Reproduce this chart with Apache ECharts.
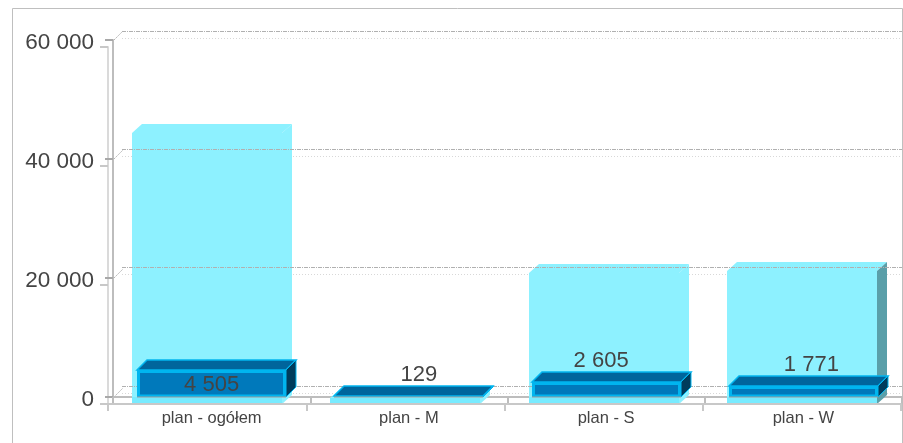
<!DOCTYPE html>
<html><head><meta charset="utf-8">
<style>html,body{margin:0;padding:0;background:#fff}#c{width:903px;height:443px}</style>
<script src="https://cdn.jsdelivr.net/npm/echarts@6/dist/echarts.min.js"></script>
</head><body><div id="c"></div>
<script>
const categories = ['plan - ogółem', 'plan - M', 'plan - S', 'plan - W'];
const planTotal = [45550, 1000, 22000, 22350];
const planDone = [4505, 129, 2605, 1771];
const doneLabels = ['4 505', '129', '2 605', '1 771'];
const yTicks = [0, 20000, 40000, 60000];

const CYAN = '#8df1ff', BASE_CYAN = '#78ebff', SIDE_DARK = '#5a9fa9';
const sideColors = [CYAN, CYAN, CYAN, SIDE_DARK];
const labelShiftX = [0, 10, -5, 8];
const labelInside = [true, false, false, false];
const BAR_W = 150, DONE_W = 149, DX = 10, DY = 9, DY2 = 10;
const TXT = '#444';
const FONT = '"Liberation Sans", Arial, sans-serif';

const fmt = v => String(v).replace(/\B(?=(\d{3})+$)/g, ' ');

function poly(points, fill, extra) {
  return Object.assign({ type: 'polygon', shape: { points }, style: { fill, stroke: null } }, extra || {});
}

function renderLight(params, api) {
  const i = api.value(0);
  const top = api.coord([i, api.value(1)]);
  const base = api.coord([i, 0]);
  const l = Math.round(top[0] - BAR_W / 2), r = l + BAR_W, t = Math.round(top[1]), b = base[1];
  const stripTop = Math.max(t, b - 7);
  return { type: 'group', children: [
    poly([[l, b], [l, t], [l + DX, t - DY], [r + DX, t - DY], [r, t], [r, b]], CYAN),
    poly([[r, t], [r + DX, t - DY], [r + DX, b - DY], [r, b]], sideColors[i]),
    { type: 'rect', shape: { x: l, y: stripTop, width: BAR_W, height: b - stripTop }, style: { fill: BASE_CYAN } }
  ]};
}

function renderDone(params, api) {
  const i = api.value(0);
  const top = api.coord([i, api.value(1)]);
  const base = api.coord([i, 0]);
  const l = Math.round(top[0] - DONE_W / 2), r = l + DONE_W, t = Math.round(top[1]), b = base[1];
  const EDGE = '#00b5ef';
  const kids = [
    poly([[l, t], [l + DX, t - DY2], [r + DX, t - DY2], [r, t]], '#00659c',
      { style: { fill: '#00659c', stroke: EDGE, lineWidth: 1.5 } }),
    poly([[r, t], [r + DX, t - DY2], [r + DX, b - DY2], [r, b]], '#003c5c',
      { style: { fill: '#003c5c', stroke: EDGE, lineWidth: 1 } }),
    { type: 'rect', shape: { x: l, y: t, width: DONE_W, height: b - t }, style: { fill: EDGE } }
  ];
  if (b - t > 6) {
    kids.push({ type: 'rect', shape: { x: l + 3, y: t + 3, width: DONE_W - 6, height: b - t - 5.5 }, style: { fill: '#0079bb' } });
  }
  kids.push({ type: 'line', shape: { x1: l, y1: b, x2: r, y2: b }, style: { stroke: '#9a9a9a', lineWidth: 1 } });
  const ty = labelInside[i] ? (t + b) / 2 + 1 : t - DY2 - 11;
  kids.push({ type: 'text', style: {
    text: doneLabels[i], x: top[0] + labelShiftX[i], y: ty, align: 'center', verticalAlign: 'middle',
    font: '22px ' + FONT, fill: TXT
  }});
  return { type: 'group', children: kids };
}

function renderDiag(params, api) {
  const p = api.coord([0, api.value(0)]);
  const gx = params.coordSys.x, y = p[1];
  return { type: 'line', shape: { x1: gx + 1, y1: y, x2: gx + 10, y2: y - 9 },
    style: { stroke: '#b5b5b5', lineWidth: 1, lineDash: [2, 1] } };
}

const hiddenX = i => ({ gridIndex: i, type: 'category', data: categories, show: false });
const hiddenY = (i, ls, z) => ({ gridIndex: i, type: 'value', min: 0, max: 60000, interval: 20000, z,
  axisLine: { show: false }, axisTick: { show: false }, axisLabel: { show: false }, splitLine: { show: true, lineStyle: ls } });

const option = {
  animation: false,
  backgroundColor: '#fff',
  graphic: [
    { type: 'polyline', z: -1, silent: true, shape: { points: [[12.5, 443], [12.5, 8.5], [902.5, 8.5], [902.5, 443]] },
      style: { stroke: '#bfbfbf', lineWidth: 1, fill: null } }
  ],
  grid: [
    { left: 108, top: 47, width: 793, height: 357 },
    { left: 113, top: 40, width: 789, height: 357 },
    { left: 122, top: 31, width: 780, height: 355 },
    { left: 122, top: 38, width: 780, height: 355 }
  ],
  xAxis: [
    { gridIndex: 0, type: 'category', data: categories, z: 3,
      axisLine: { lineStyle: { color: '#c8c8c8', width: 2 } },
      axisTick: { show: true, length: 7, lineStyle: { color: '#c8c8c8', width: 2 } },
      axisLabel: { show: false }, splitLine: { show: false } },
    { gridIndex: 1, type: 'category', data: categories, z: 0,
      axisLine: { lineStyle: { color: '#bdbdbd', width: 2 } },
      axisTick: { show: true, length: 7, lineStyle: { color: '#bdbdbd', width: 2 } },
      axisLabel: { show: true, color: TXT, fontSize: 16.5, fontFamily: FONT, margin: 13, interval: 0 }, splitLine: { show: false } },
    hiddenX(2), hiddenX(3)
  ],
  yAxis: [
    { gridIndex: 0, type: 'value', min: 0, max: 60000, interval: 20000, z: 0,
      axisLine: { show: true, lineStyle: { color: '#dadada', width: 2 } },
      axisTick: { show: true, length: 8, lineStyle: { color: '#c8c8c8', width: 2 } },
      axisLabel: { show: false }, splitLine: { show: false } },
    { gridIndex: 1, type: 'value', min: 0, max: 60000, interval: 20000, z: 0,
      axisLine: { show: true, lineStyle: { color: '#bdbdbd', width: 2 } },
      axisTick: { show: true, length: 8, lineStyle: { color: '#a8a8a8', width: 2 } },
      axisLabel: { show: true, color: TXT, fontSize: 22.5, fontFamily: FONT, margin: 19, verticalAlign: 'top', lineHeight: 5, formatter: fmt }, splitLine: { show: false } },
    hiddenY(2, { color: '#b0b0b0', width: 1, type: [4, 1, 1, 1] }, 2),
    hiddenY(3, { color: '#d8d8d8', width: 1, type: [1, 2] }, 0)
  ],
  series: [
    { type: 'custom', name: 'plan', xAxisIndex: 0, yAxisIndex: 0, z: 1, clip: false, silent: true,
      data: planTotal.map((v, i) => [i, v]), renderItem: renderLight },
    { type: 'custom', name: 'wykonanie', xAxisIndex: 1, yAxisIndex: 1, z: 4, clip: false, silent: true,
      data: planDone.map((v, i) => [i, v]), renderItem: renderDone },
    { type: 'custom', name: 'diag', xAxisIndex: 1, yAxisIndex: 1, z: 0, clip: false, silent: true,
      data: yTicks.map(v => [v]), encode: { y: 0 }, renderItem: renderDiag }
  ]
};
echarts.init(document.getElementById('c'), null, { renderer: 'canvas' }).setOption(option);
</script></body></html>
